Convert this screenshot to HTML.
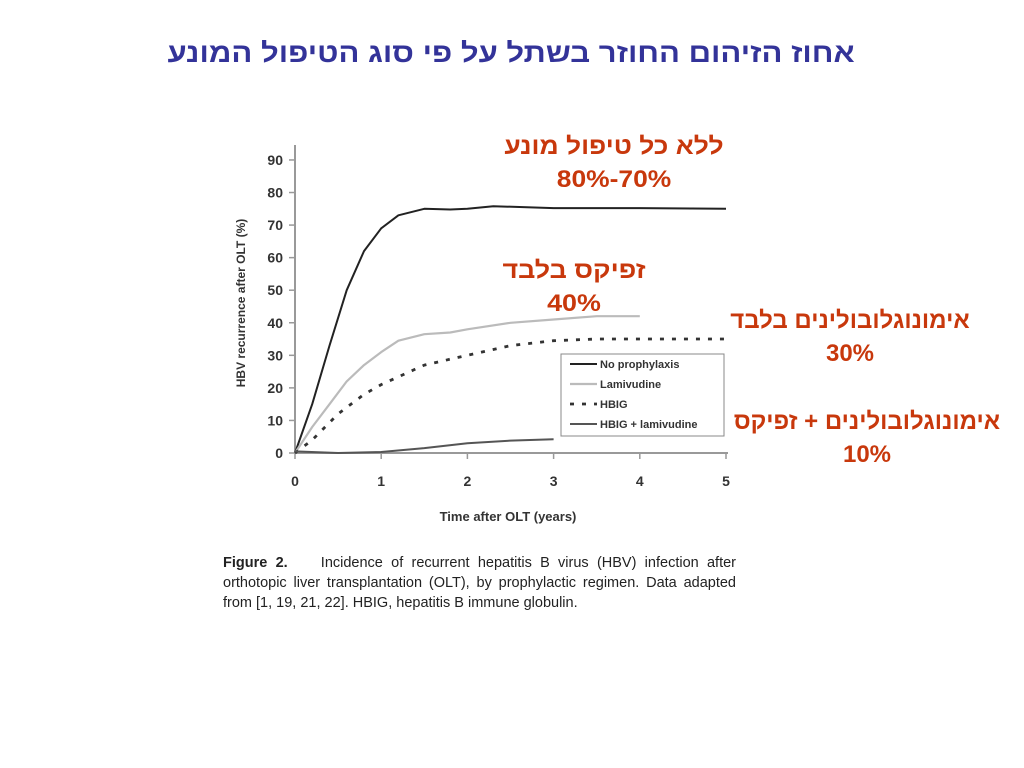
<!DOCTYPE html>
<html><head><meta charset="utf-8"><style>
body{margin:0;background:#fff;width:1024px;height:768px;overflow:hidden;position:relative;font-family:"Liberation Sans","Noto Sans CJK SC",sans-serif}
.t{position:absolute;direction:rtl;text-align:center;font-weight:bold;white-space:nowrap}
.r{color:#c8380c;font-size:24px;line-height:33px}
.cap{position:absolute;left:223px;top:553px;width:513px;font-family:"Liberation Sans Narrow","Liberation Sans",sans-serif;font-size:14.5px;line-height:20px;color:#222;text-align:justify}
</style></head><body>
<div class="t" style="left:0;width:1024px;top:38px;font-size:27px;color:#333399;transform:scaleX(1.15);transform-origin:518px 0">אחוז הזיהום החוזר בשתל על פי סוג הטיפול המונע</div>
<svg id="chart" width="1024" height="768" style="position:absolute;left:0;top:0" font-family="Liberation Sans, sans-serif"></svg>
<div class="t r" style="left:464px;width:300px;top:130px;transform:scaleX(1.1)">ללא כל טיפול מונע<br><span dir="ltr">80%-70%</span></div>
<div class="t r" style="left:474px;width:200px;top:254px;transform:scaleX(1.12)">זפיקס בלבד<br>40%</div>
<div class="t r" style="left:700px;width:300px;top:304px">אימונוגלובולינים בלבד<br>30%</div>
<div class="t r" style="left:717px;width:300px;top:405px">אימונוגלובולינים + זפיקס<br>10%</div>
<div class="cap"><b>Figure 2.</b>&nbsp;&nbsp;&nbsp; Incidence of recurrent hepatitis B virus (HBV) infection after orthotopic liver transplantation (OLT), by prophylactic regimen. Data adapted from [1, 19, 21, 22]. HBIG, hepatitis B immune globulin.</div>
<script>
const xTicks=[0,1,2,3,4,5];
const yTicks=[0,10,20,30,40,50,60,70,80,90];
const noProphX=[0,0.2,0.4,0.6,0.8,1,1.2,1.5,1.8,2,2.3,3,4,5];
const noProphY=[0,15,33,50,62,69,73,75,74.8,75,75.8,75.2,75.2,75];
const lamX=[0,0.2,0.4,0.6,0.8,1,1.2,1.5,1.8,2,2.5,3,3.5,4];
const lamY=[0,8,15,22,27,31,34.5,36.5,37,38,40,41,42,42];
const hbigX=[0,0.2,0.5,0.8,1,1.5,2,2.5,3,3.5,4,5];
const hbigY=[0,4,12,18,21,27,30,33,34.5,35,35,35];
const comboX=[0,0.5,1,1.5,2,2.5,3];
const comboY=[0.5,0,0.3,1.5,3,3.8,4.2];
const legendLabels=["No prophylaxis","Lamivudine","HBIG","HBIG + lamivudine"];
const sx=v=>295+v*86.2, sy=v=>453-v*3.256;
const svg=document.getElementById('chart'),NS='http://www.w3.org/2000/svg';
function mk(t,a,p){const e=document.createElementNS(NS,t);for(const k in a)e.setAttribute(k,a[k]);(p||svg).appendChild(e);return e;}
let e=mk('line',{x1:295,y1:145,x2:295,y2:453,stroke:'#999','stroke-width':2});


e=mk('line',{x1:295,y1:453,x2:728,y2:453,stroke:'#999','stroke-width':2});


yTicks.forEach(v=>{mk('line',{x1:289,x2:295,y1:sy(v),y2:sy(v),stroke:'#999','stroke-width':1.5});
 const t=mk('text',{x:283,y:sy(v)+5,'text-anchor':'end','font-size':14,'font-weight':'bold',fill:'#333'});t.textContent=v;
 
 });
xTicks.forEach(v=>{mk('line',{x1:sx(v),x2:sx(v),y1:453,y2:459,stroke:'#999','stroke-width':1.5});
 const t=mk('text',{x:sx(v),y:486,'text-anchor':'middle','font-size':14,'font-weight':'bold',fill:'#333'});t.textContent=v;
 
 });
e=mk('text',{x:508,y:521,'text-anchor':'middle','font-size':13,'font-weight':'bold',fill:'#333'});e.textContent='Time after OLT (years)';


e=mk('text',{x:0,y:0,transform:'translate(245,303) rotate(-90)','text-anchor':'middle','font-size':12,'font-weight':'bold',fill:'#333'});e.textContent='HBV recurrence after OLT (%)';


function line(xs,ys,st,name){const d=xs.map((x,i)=>(i?'L':'M')+sx(x).toFixed(1)+','+sy(ys[i]).toFixed(1)).join('');
 const p=mk('path',Object.assign({d:d,fill:'none','stroke-linejoin':'round'},st));
 
 }
const styles=[{stroke:'#222','stroke-width':2},{stroke:'#bbb','stroke-width':2.2},{stroke:'#333','stroke-width':2.8,'stroke-dasharray':'4,8'},{stroke:'#555','stroke-width':2}];
line(noProphX,noProphY,styles[0],'series-no-prophylaxis');
line(lamX,lamY,styles[1],'series-lamivudine');
line(hbigX,hbigY,styles[2],'series-hbig');
line(comboX,comboY,styles[3],'series-hbig-lamivudine');
e=mk('rect',{x:561,y:354,width:163,height:82,fill:'#fff',stroke:'#888','stroke-width':1});


legendLabels.forEach((l,i)=>{const y=364+i*20;
 mk('line',Object.assign({x1:570,x2:597,y1:y,y2:y},styles[i]));
 const t=mk('text',{x:600,y:y+4,'font-size':11,'font-weight':'bold',fill:'#333'});t.textContent=l;
 
 });
</script>
</body></html>
